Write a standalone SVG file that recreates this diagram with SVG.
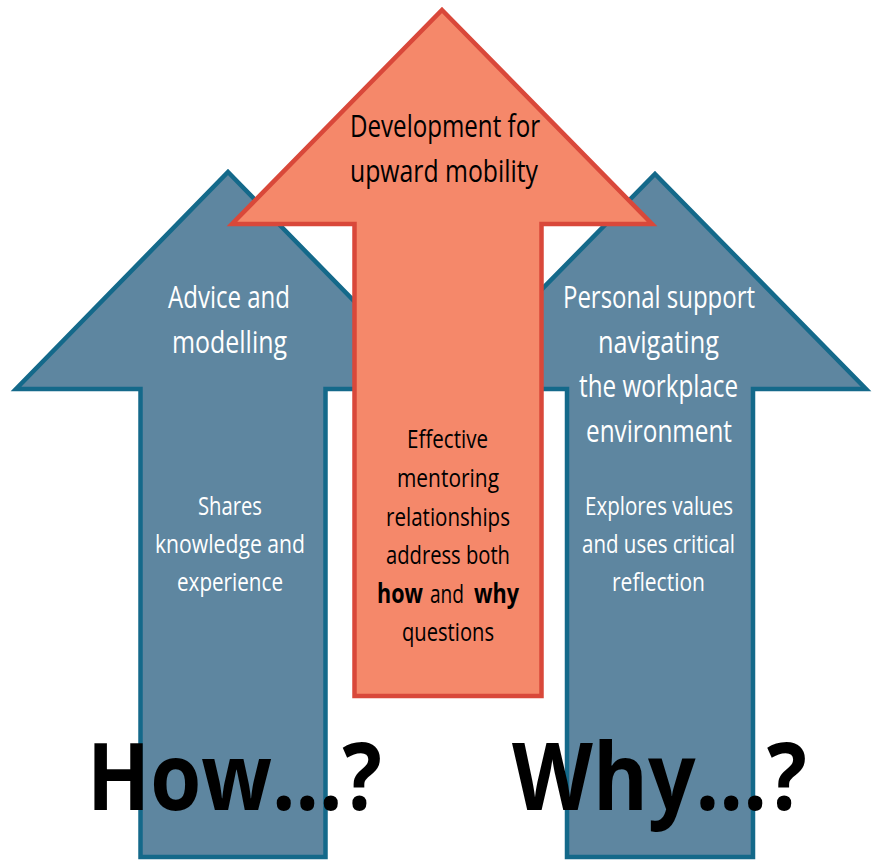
<svg xmlns="http://www.w3.org/2000/svg" width="873" height="861" viewBox="0 0 873 861">
<style>
.blue{fill:#5e86a0;stroke:#14698a;stroke-width:4.5;stroke-linejoin:miter;stroke-miterlimit:10}
.orange{fill:#f5886a;stroke:#d9483a;stroke-width:4.5;stroke-linejoin:miter;stroke-miterlimit:10}
text{font-family:"Open Sans","Liberation Sans",sans-serif;text-anchor:middle}
.h{font-size:31px}
.b{font-size:26px}
.w{fill:#ffffff}
.k{fill:#000000}
.s{text-anchor:start}
.bold{font-weight:bold}
.big{font-size:93px;font-weight:bold;fill:#000000;text-anchor:start}
</style>
<rect width="873" height="861" fill="#ffffff"/>
<g id="connectors"></g>
<g id="arrow-how">
<path class="blue" d="M228,172 L440,389 L325.5,389 L325.5,857 L140.5,857 L140.5,389 L16,389 Z"/>
<text class="h w" x="229" y="308" textLength="122" lengthAdjust="spacingAndGlyphs">Advice and</text>
<text class="h w" x="229.5" y="353" textLength="115" lengthAdjust="spacingAndGlyphs">modelling</text>
<text class="b w" x="230" y="515" textLength="64" lengthAdjust="spacingAndGlyphs">Shares</text>
<text class="b w" x="230" y="553" textLength="150" lengthAdjust="spacingAndGlyphs">knowledge and</text>
<text class="b w" x="230" y="591" textLength="106" lengthAdjust="spacingAndGlyphs">experience</text>
</g>
<g id="arrow-why">
<path class="blue" d="M655,174 L866,389 L753,389 L753,857 L567,857 L567,389 L444,389 Z"/>
<text class="h w" x="659" y="308" textLength="192" lengthAdjust="spacingAndGlyphs">Personal support</text>
<text class="h w" x="658.5" y="353" textLength="121" lengthAdjust="spacingAndGlyphs">navigating</text>
<text class="h w" x="658.5" y="397" textLength="159" lengthAdjust="spacingAndGlyphs">the workplace</text>
<text class="h w" x="659" y="442" textLength="146" lengthAdjust="spacingAndGlyphs">environment</text>
<text class="b w" x="659" y="515" textLength="148" lengthAdjust="spacingAndGlyphs">Explores values</text>
<text class="b w" x="658.5" y="553" textLength="153" lengthAdjust="spacingAndGlyphs">and uses critical</text>
<text class="b w" x="658.5" y="591" textLength="93" lengthAdjust="spacingAndGlyphs">reflection</text>
</g>
<g id="arrow-development">
<path class="orange" d="M442,10 L652,224 L541.5,224 L541.5,696 L354.5,696 L354.5,224 L232,224 Z"/>
<text class="h k" x="445" y="137" textLength="190" lengthAdjust="spacingAndGlyphs">Development for</text>
<text class="h k" x="444" y="182" textLength="188" lengthAdjust="spacingAndGlyphs">upward mobility</text>
<text class="b k" x="447.5" y="448" textLength="81" lengthAdjust="spacingAndGlyphs">Effective</text>
<text class="b k" x="448" y="487" textLength="102" lengthAdjust="spacingAndGlyphs">mentoring</text>
<text class="b k" x="448" y="526" textLength="124" lengthAdjust="spacingAndGlyphs">relationships</text>
<text class="b k" x="448" y="564" textLength="124" lengthAdjust="spacingAndGlyphs">address both</text>
<text class="b k s bold" x="377" y="603" textLength="46" lengthAdjust="spacingAndGlyphs">how</text>
<text class="b k s" x="430" y="603" textLength="34" lengthAdjust="spacingAndGlyphs">and</text>
<text class="b k s bold" x="474" y="603" textLength="45" lengthAdjust="spacingAndGlyphs">why</text>
<text class="b k" x="448" y="641" textLength="92" lengthAdjust="spacingAndGlyphs">questions</text>
</g>
<g id="labels">
<text class="big" x="87" y="810" textLength="295" lengthAdjust="spacingAndGlyphs">How...?</text>
<text class="big" x="512" y="810" textLength="295" lengthAdjust="spacingAndGlyphs">Why...?</text>
</g>
</svg>
